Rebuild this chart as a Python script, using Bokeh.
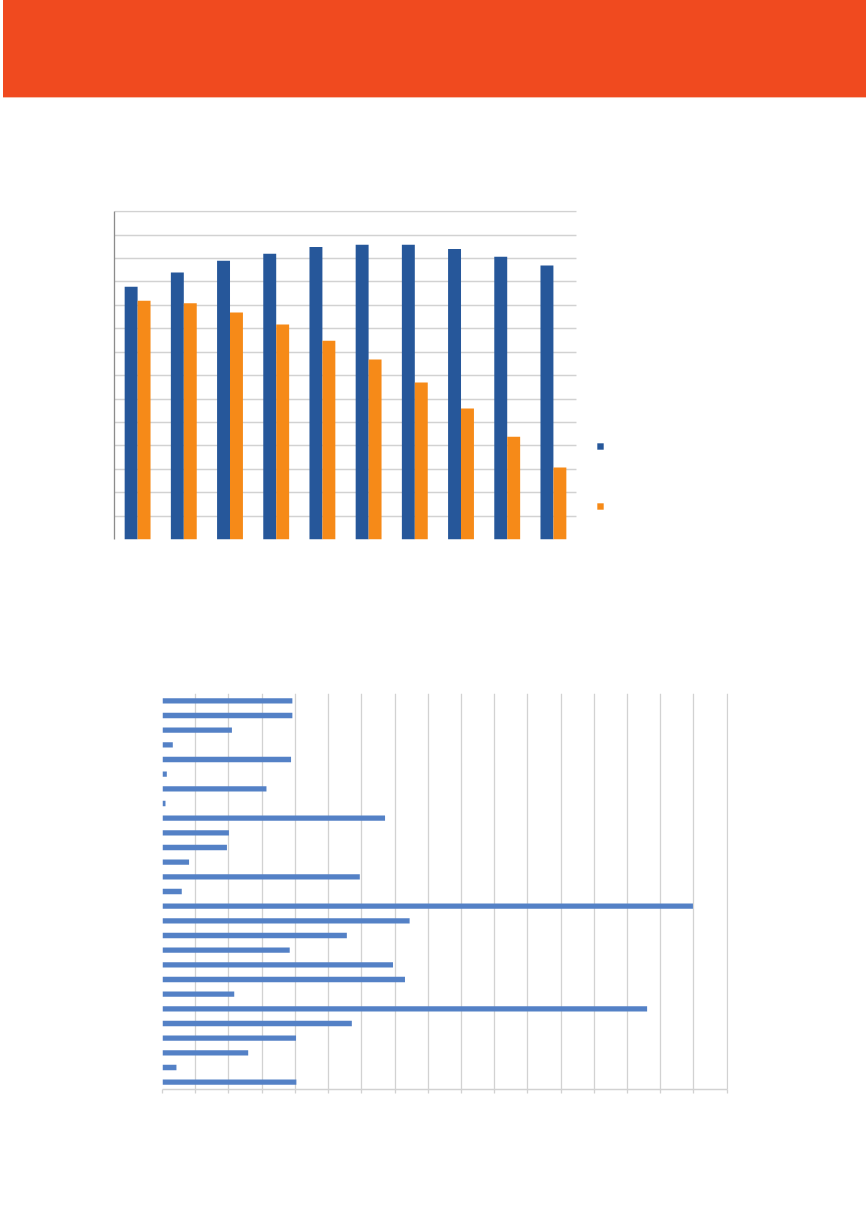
from bokeh.plotting import figure
from bokeh.models import (FactorRange, Range1d, FixedTicker, Legend, LegendItem, Div,
                          CustomJSTickFormatter, Grid)
from bokeh.layouts import column
from bokeh.transform import dodge
from bokeh.embed import file_html
from bokeh.resources import INLINE

# ---------------- data ----------------
# top chart (grouped columns), values in gridline units
col_categories = ["1", "2", "3", "4", "5", "6", "7", "8", "9", "10"]
series_a = [10.79, 11.40, 11.90, 12.20, 12.49, 12.59, 12.59, 12.41, 12.08, 11.70]
series_b = [10.20, 10.09, 9.69, 9.18, 8.49, 7.69, 6.70, 5.59, 4.39, 3.08]
col_y_ticks = list(range(0, 15))

# bottom chart (horizontal bars), top to bottom
bar_categories = [str(i) for i in range(1, 28)]
bar_values = [3.91, 3.91, 2.09, 0.31, 3.87, 0.13, 3.13, 0.09, 6.70, 2.00,
              1.94, 0.80, 5.94, 0.58, 15.97, 7.44, 5.55, 3.83, 6.94, 7.30,
              2.16, 14.59, 5.70, 4.02, 2.58, 0.42, 4.03]
bar_x_ticks = list(range(0, 18))

BLUE = "#26579a"
ORANGE = "#f68a18"
BAR_BLUE = "#5481c6"
GRID = "#d2d2d2"

# ---------------- header ----------------
header = Div(text="", width=863, height=98, margin=(0, 0, 0, 3),
             styles={"background-color": "#f04a1f",
                     "border-bottom": "1px solid #f7bda9",
                     "box-sizing": "border-box"})

# ---------------- top chart ----------------
n = len(col_categories)
LEGEND_ROOM = 0.952   # extra room (in category widths) right of the columns for the legend
p1 = figure(width=720, height=502, x_range=Range1d(0, n + LEGEND_ROOM),
            y_range=Range1d(0, 14.05), output_backend="svg", toolbar_location=None,
            min_border_left=114, min_border_right=100, min_border_top=112,
            min_border_bottom=61)
p1.outline_line_color = None

src = dict(x=[i + 0.5 for i in range(n)], cat=col_categories, a=series_a, b=series_b)
ra = p1.vbar(x=dodge("x", -0.14), top="a", width=0.28,
             source=src, fill_color=BLUE, line_color=None)
rb = p1.vbar(x=dodge("x", 0.14), top="b", width=0.28,
             source=src, fill_color=ORANGE, line_color=None)

p1.xgrid.grid_line_color = None
if "cross_bounds" in Grid.properties():
    p1.ygrid.ticker = FixedTicker(ticks=col_y_ticks)
    p1.ygrid.grid_line_color = GRID
    p1.ygrid.grid_line_width = 1.3
    p1.ygrid.cross_bounds = (0, n)
else:
    p1.ygrid.grid_line_color = None
    p1.segment(x0=0, x1=n, y0=col_y_ticks, y1=col_y_ticks,
               line_color=GRID, line_width=1.3, level="underlay")

p1.yaxis.ticker = FixedTicker(ticks=[])
p1.yaxis.bounds = (0, 14)
p1.yaxis.axis_line_color = "#8c8c8c"
p1.yaxis.axis_line_width = 1.3
p1.yaxis.major_tick_line_color = None
p1.yaxis.minor_tick_line_color = None
p1.xaxis.visible = False

legend = Legend(items=[LegendItem(label=" ", renderers=[ra]),
                       LegendItem(label=" ", renderers=[rb])],
                location=(482, 29), glyph_width=8, glyph_height=8,
                label_height=8, label_width=1, label_standoff=0,
                label_text_font_size="1px", padding=0, margin=0, spacing=52,
                border_line_color=None, background_fill_alpha=0)
p1.add_layout(legend, "center")

# ---------------- bottom chart ----------------
p2 = figure(width=780, height=549, x_range=Range1d(0, 17.04),
            y_range=FactorRange(*reversed(bar_categories), range_padding=0),
            output_backend="svg", toolbar_location=None,
            min_border_left=114, min_border_right=100, min_border_top=93,
            min_border_bottom=60, margin=(0, 0, 0, 48))
p2.outline_line_color = None
p2.hbar(y=bar_categories, right=bar_values, height=0.36, left=0,
        fill_color=BAR_BLUE, line_color=None)

p2.ygrid.grid_line_color = None
p2.xgrid.ticker = FixedTicker(ticks=bar_x_ticks)
p2.xgrid.grid_line_color = GRID
p2.xgrid.grid_line_width = 1.3

p2.xaxis.ticker = FixedTicker(ticks=bar_x_ticks)
p2.xaxis.bounds = (0, 17)
p2.xaxis.formatter = CustomJSTickFormatter(code="return ''")
p2.xaxis.axis_line_color = GRID
p2.xaxis.axis_line_width = 1.3
p2.xaxis.major_tick_line_color = GRID
p2.xaxis.major_tick_line_width = 1.3
p2.xaxis.major_tick_in = 0
p2.xaxis.major_tick_out = 4
p2.xaxis.minor_tick_line_color = None
p2.yaxis.visible = False

layout = column(header, p1, p2, spacing=0)
open("out.html", "w").write(file_html(layout, INLINE))
